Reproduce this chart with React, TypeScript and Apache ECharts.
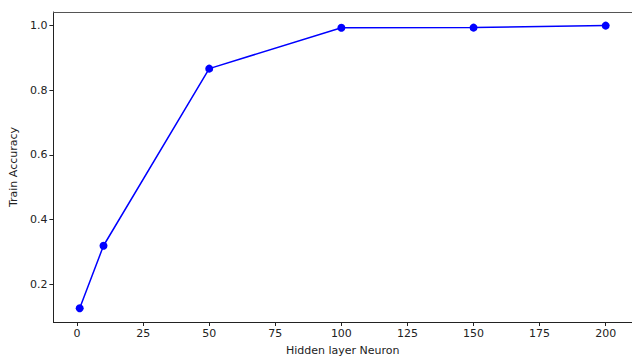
import React, { useEffect, useRef } from "react";
import * as echarts from "echarts";

const neurons = [1, 10, 50, 100, 150, 200];
const trainAccuracy = [0.126, 0.319, 0.866, 0.9925, 0.9928, 0.999];
const xTicks = [0, 25, 50, 75, 100, 125, 150, 175, 200];
const yTicks = [0.2, 0.4, 0.6, 0.8, 1.0];

export default function App() {
  const ref = useRef<HTMLDivElement>(null);
  useEffect(() => {
    if (!ref.current) return;
    const chart = echarts.init(ref.current, null, { renderer: "svg" });
    const font = "DejaVu Sans";
    const xRange = { min: -8.95, max: 209.95 };
    chart.setOption({
      animation: false,
      backgroundColor: "#ffffff",
      textStyle: { fontFamily: font },
      grid: {
        left: 53,
        top: 12,
        width: 581,
        height: 310,
        show: false,
        containLabel: false,
      },
      xAxis: [
        {
          type: "value",
          ...xRange,
          name: "Hidden layer Neuron",
          nameLocation: "middle",
          nameGap: 23,
          nameTextStyle: { fontFamily: font, fontSize: 11, color: "#222" },
          axisLine: { show: true, onZero: false, lineStyle: { color: "#222", width: 1 } },
          axisTick: { show: true, length: 4, customValues: xTicks, lineStyle: { color: "#222" } },
          axisLabel: { customValues: xTicks, fontFamily: font, fontSize: 11, color: "#222", margin: 6 },
          splitLine: { show: false },
        },
        {
          type: "value",
          position: "top",
          ...xRange,
          axisLine: { show: true, onZero: false, lineStyle: { color: "#555", width: 1 } },
          axisTick: { show: false },
          axisLabel: { show: false },
          splitLine: { show: false },
        },
      ],
      yAxis: {
        type: "value",
        min: 0.0835,
        max: 1.041,
        name: "Train Accuracy",
        nameLocation: "middle",
        nameGap: 26,
        nameTextStyle: { fontFamily: font, fontSize: 11, color: "#222" },
        axisLine: { show: true, onZero: false, lineStyle: { color: "#222", width: 1 } },
        axisTick: { show: true, length: 4, customValues: yTicks, lineStyle: { color: "#222" } },
        axisLabel: {
          customValues: yTicks,
          fontFamily: font,
          fontSize: 11,
          color: "#222",
          margin: 6,
          formatter: (v: number) => v.toFixed(1),
        },
        splitLine: { show: false },
      },
      series: [
        {
          type: "line",
          xAxisIndex: 0,
          data: neurons.map((n, i) => [n, trainAccuracy[i]]),
          symbol: "circle",
          symbolSize: 8,
          showSymbol: true,
          lineStyle: { color: "#0000ff", width: 1.5 },
          itemStyle: { color: "#0000ff" },
        },
      ],
    });
    return () => chart.dispose();
  }, []);
  return (
    <div
      ref={ref}
      style={{ position: "fixed", left: 0, top: 0, width: 632, height: 361 }}
    />
  );
}
